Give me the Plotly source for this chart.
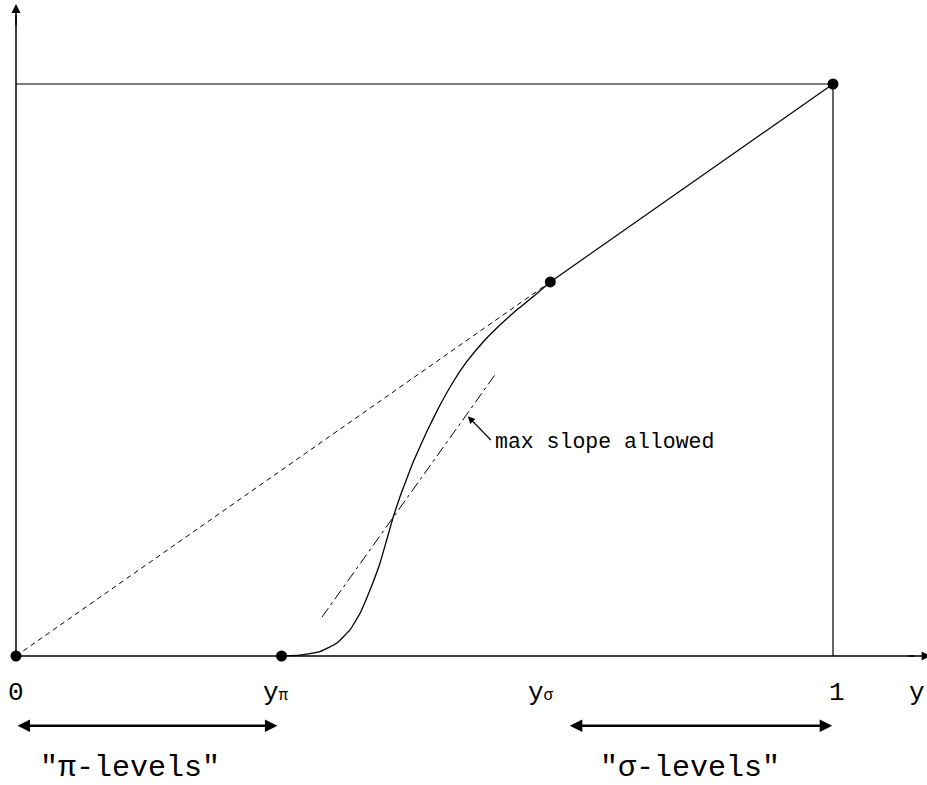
import plotly.graph_objects as go

# Key abscissae / values (unit square: x in [0,1], y in [0,1])
y_pi = 0.325
y_sigma = 0.654
corner = (1.0, 1.0)

# S-shaped curve from y_pi on the axis up to the diagonal at y_sigma
curve_x = [0.325, 0.3476, 0.3721, 0.3925, 0.4088, 0.4211, 0.4333, 0.4455, 0.4537,
           0.4618, 0.4700, 0.4749, 0.4863, 0.5027, 0.5190, 0.5352, 0.5517, 0.5720,
           0.5924, 0.6128, 0.6332, 0.654]
curve_y = [0.000, 0.0017, 0.0075, 0.0222, 0.0455, 0.0747, 0.1154, 0.1621, 0.2028,
           0.2435, 0.2785, 0.2972, 0.3397, 0.3921, 0.4388, 0.4795, 0.5145, 0.5495,
           0.5787, 0.6049, 0.6284, 0.654]

# "max slope allowed" line (slope 2)
slope_x = [0.3745, 0.5875]
slope_y = [0.068, 0.494]

tick_labels = ["0", "y<span style='font-size:16px'>π</span>",
               "y<span style='font-size:16px'>σ</span>", "1"]
tick_pos = [0.0006, 0.318, 0.643, 1.005]

FONT = "Liberation Mono, Courier New, monospace"
BLACK = "#000000"

fig = go.Figure()

# Dotted diagonal from origin to y_sigma point
fig.add_trace(go.Scatter(x=[0, y_sigma], y=[0, y_sigma], mode="lines",
                         line=dict(color=BLACK, width=1, dash="5px,4px"),
                         hoverinfo="skip"))
# Solid diagonal from y_sigma point to (1,1)
fig.add_trace(go.Scatter(x=[y_sigma, corner[0]], y=[y_sigma, corner[1]], mode="lines",
                         line=dict(color=BLACK, width=1.2), hoverinfo="skip"))
# Box lines: top horizontal and right vertical
fig.add_trace(go.Scatter(x=[0, corner[0], corner[0]], y=[corner[1], corner[1], 0],
                         mode="lines", line=dict(color=BLACK, width=1.2),
                         hoverinfo="skip"))
# S-curve
fig.add_trace(go.Scatter(x=curve_x, y=curve_y, mode="lines",
                         line=dict(color=BLACK, width=1.3, shape="spline", smoothing=0.3),
                         hoverinfo="skip"))
# Max slope line
fig.add_trace(go.Scatter(x=slope_x, y=slope_y, mode="lines",
                         line=dict(color=BLACK, width=1, dash="11px,4px,3px,4px"),
                         hoverinfo="skip"))
# Axes lines
fig.add_trace(go.Scatter(x=[0, 1.10], y=[0, 0], mode="lines",
                         line=dict(color=BLACK, width=1.5), hoverinfo="skip"))
fig.add_trace(go.Scatter(x=[0, 0], y=[0, 1.12], mode="lines",
                         line=dict(color=BLACK, width=1.5), hoverinfo="skip"))
# Dots
fig.add_trace(go.Scatter(x=[0, y_pi, y_sigma, corner[0]], y=[0, 0, y_sigma, corner[1]],
                         mode="markers", marker=dict(color=BLACK, size=11),
                         hoverinfo="skip"))

# Axis arrowheads
fig.add_annotation(x=1.1195, y=0, ax=1.09, ay=0, xref="x", yref="y", axref="x", ayref="y",
                   showarrow=True, arrowhead=2, arrowsize=1.2, arrowwidth=1.5,
                   arrowcolor=BLACK, text="")
fig.add_annotation(x=0, y=1.140, ax=0, ay=1.10, xref="x", yref="y", axref="x", ayref="y",
                   showarrow=True, arrowhead=2, arrowsize=1.2, arrowwidth=1.5,
                   arrowcolor=BLACK, text="")

# Tick labels
for lab, xp in zip(tick_labels, tick_pos):
    fig.add_annotation(x=xp, y=-0.064, xref="x", yref="y", text=lab, showarrow=False,
                       font=dict(family=FONT, size=26, color=BLACK),
                       xanchor="center", yanchor="middle")
fig.add_annotation(x=1.103, y=-0.064, xref="x", yref="y", text="y", showarrow=False,
                   font=dict(family=FONT, size=26, color=BLACK),
                   xanchor="center", yanchor="middle")

# Range double arrows
fig.add_annotation(x=y_pi - 0.005, y=-0.122, ax=0.0, ay=-0.122, xref="x", yref="y",
                   axref="x", ayref="y", showarrow=True, arrowhead=2, startarrowhead=2,
                   arrowside="end+start", arrowsize=1, arrowwidth=2.5,
                   arrowcolor=BLACK, text="")
fig.add_annotation(x=0.999, y=-0.122, ax=0.676, ay=-0.122, xref="x", yref="y",
                   axref="x", ayref="y", showarrow=True, arrowhead=2, startarrowhead=2,
                   arrowside="end+start", arrowsize=1, arrowwidth=2.5,
                   arrowcolor=BLACK, text="")

# Range labels
fig.add_annotation(x=0.140, y=-0.196, xref="x", yref="y", text='"π-levels"',
                   showarrow=False, font=dict(family=FONT, size=30, color=BLACK),
                   xanchor="center", yanchor="middle")
fig.add_annotation(x=0.825, y=-0.196, xref="x", yref="y", text='"σ-levels"',
                   showarrow=False, font=dict(family=FONT, size=30, color=BLACK),
                   xanchor="center", yanchor="middle")

# Max slope annotation
fig.add_annotation(x=0.553, y=0.419, ax=0.583, ay=0.375, xref="x", yref="y",
                   axref="x", ayref="y", showarrow=True, arrowhead=2, arrowsize=1.2,
                   arrowwidth=1.2, arrowcolor=BLACK, text="", standoff=0)
fig.add_annotation(x=0.584, y=0.375, xref="x", yref="y", text="max slope allowed",
                   showarrow=False, font=dict(family=FONT, size=21.5, color=BLACK),
                   xanchor="left", yanchor="middle")

fig.update_layout(
    width=927, height=785,
    margin=dict(l=0, r=0, t=0, b=0),
    paper_bgcolor="white", plot_bgcolor="white",
    showlegend=False,
    xaxis=dict(range=[-16 / 817, 911 / 817], visible=False, fixedrange=True),
    yaxis=dict(range=[-129 / 572, 656 / 572], visible=False, fixedrange=True),
)

fig.write_html("out.html")
